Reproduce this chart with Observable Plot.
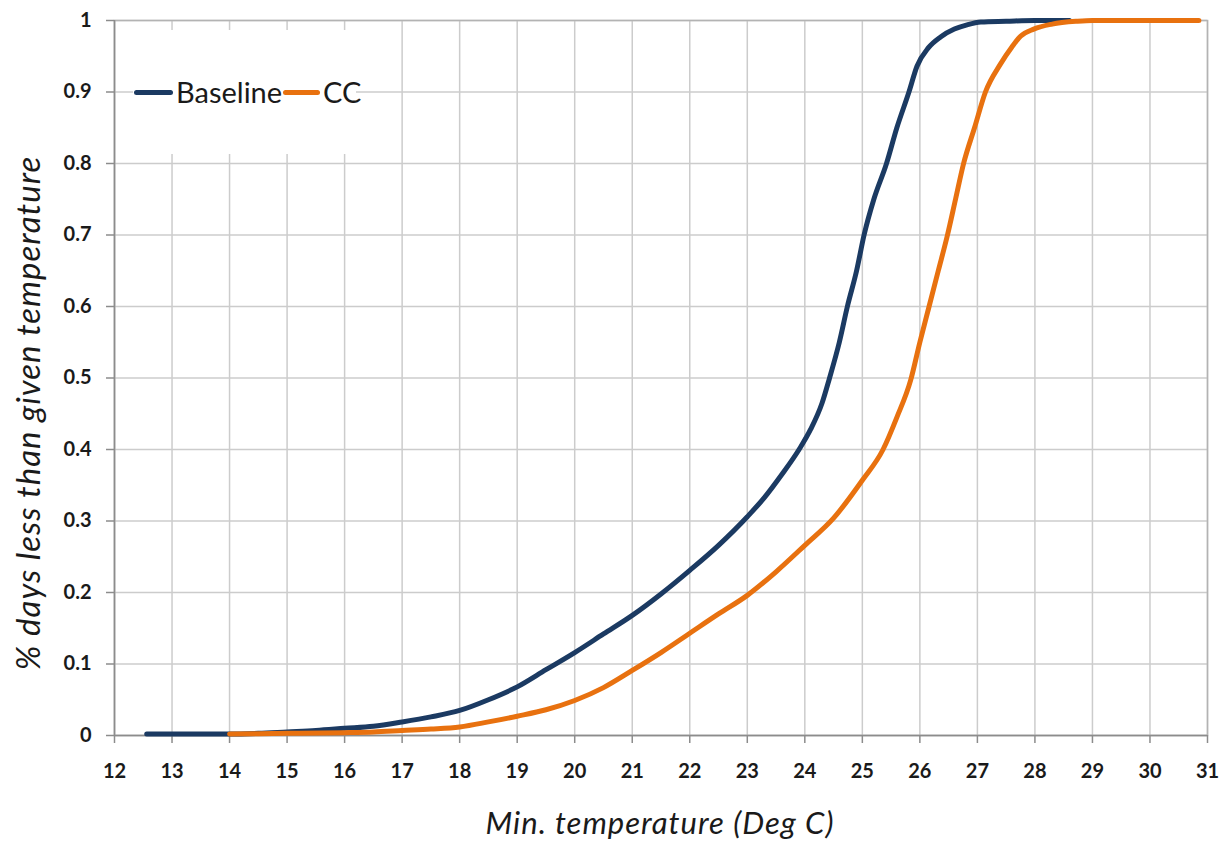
<!DOCTYPE html>
<html>
<head>
<meta charset="utf-8">
<script src="https://cdn.jsdelivr.net/npm/d3@7"></script>
<script src="https://cdn.jsdelivr.net/npm/@observablehq/plot@0.6"></script>
<style>
  html, body { margin: 0; padding: 0; background: #fff; }
  #wrap { position: relative; width: 1228px; height: 841px; font-family: Lato, "Open Sans", sans-serif; color: #1a1a1a; }
  #chart { position: absolute; left: 0; top: 0; }
  .legend { position: absolute; left: 133px; top: 30px; width: 223px; height: 124px; background: #fff; }
  .sw { position: absolute; height: 5px; border-radius: 3px; }
  .lt { position: absolute; font-size: 29px; line-height: 1; }
  .xtitle { position: absolute; left: 0; width: 1320px; top: 803px; text-align: center; font-size: 31px; letter-spacing: 1px; font-style: italic; }
  .ytitle { position: absolute; left: 27px; top: 413px; transform: translate(-50%, -50%) rotate(-90deg); white-space: nowrap; font-size: 33px; letter-spacing: 1px; font-style: italic; }
</style>
</head>
<body>
<div id="wrap">
  <div id="chart"></div>
  <div class="legend" id="legend"></div>
  <div class="xtitle">Min. temperature (Deg C)</div>
  <div class="ytitle">% days less than given temperature</div>
</div>
<script>
// ---- data ----
const seriesNames = ["Baseline", "CC"];
const seriesColors = ["#1b3a62", "#e8710f"];

const baselineTemp  = [12.56, 13, 14, 14.5, 15, 15.5, 16, 16.5, 17, 17.5, 18, 18.5, 19, 19.5, 20, 20.5, 21, 21.5, 22, 22.5, 23, 23.3, 23.6, 23.9, 24.1, 24.3, 24.43, 24.6, 24.74, 24.9, 25.03, 25.2, 25.42, 25.6, 25.81, 25.95, 26.15, 26.36, 26.6, 26.82, 27.06, 27.5, 28, 28.6];
const baselineShare = [0.002, 0.002, 0.002, 0.003, 0.005, 0.007, 0.010, 0.013, 0.019, 0.026, 0.035, 0.050, 0.068, 0.092, 0.116, 0.142, 0.168, 0.198, 0.231, 0.266, 0.306, 0.333, 0.365, 0.400, 0.428, 0.465, 0.50, 0.55, 0.60, 0.65, 0.70, 0.75, 0.80, 0.85, 0.90, 0.936, 0.962, 0.977, 0.988, 0.994, 0.998, 0.999, 1.0, 1.0];

const ccTemp  = [14, 15, 16, 16.5, 17, 17.5, 18, 18.5, 19, 19.5, 20, 20.5, 21, 21.5, 22, 22.5, 23, 23.5, 24, 24.5, 25, 25.36, 25.6, 25.84, 26.0, 26.16, 26.32, 26.48, 26.62, 26.76, 26.95, 27.14, 27.4, 27.6, 27.75, 27.98, 28.3, 28.74, 29, 30.85];
const ccShare = [0.002, 0.003, 0.004, 0.005, 0.007, 0.009, 0.012, 0.019, 0.027, 0.036, 0.049, 0.067, 0.091, 0.116, 0.143, 0.170, 0.196, 0.229, 0.266, 0.304, 0.357, 0.40, 0.445, 0.497, 0.55, 0.60, 0.65, 0.70, 0.75, 0.80, 0.85, 0.90, 0.939, 0.963, 0.978, 0.988, 0.995, 0.999, 1.0, 1.0];

const xTicks = [12, 13, 14, 15, 16, 17, 18, 19, 20, 21, 22, 23, 24, 25, 26, 27, 28, 29, 30, 31];
const yTicks = [0, 0.1, 0.2, 0.3, 0.4, 0.5, 0.6, 0.7, 0.8, 0.9, 1];
const yTickLabels = ["0", "0.1", "0.2", "0.3", "0.4", "0.5", "0.6", "0.7", "0.8", "0.9", "1"];

// ---- build tables ----
const baseline = baselineTemp.map((t, i) => ({t, v: baselineShare[i]}));
const cc = ccTemp.map((t, i) => ({t, v: ccShare[i]}));

const gridStyle = {stroke: "#cccccc", strokeOpacity: 1, strokeWidth: 1.5};

const chart = Plot.plot({
  width: 1228,
  height: 841,
  marginLeft: 114,
  marginRight: 21,
  marginTop: 20,
  marginBottom: 106,
  style: {fontFamily: "Lato, 'Open Sans', sans-serif", background: "white", color: "#1a1a1a"},
  x: {domain: [12, 31]},
  y: {domain: [0, 1]},
  marks: [
    Plot.gridX(xTicks, gridStyle),
    Plot.gridY(yTicks, gridStyle),
    Plot.frame({stroke: "#b3b3b3", strokeWidth: 1.5}),
    Plot.ruleX([12], {stroke: "#8c8c8c", strokeWidth: 1.5}),
    Plot.ruleY([0], {stroke: "#8c8c8c", strokeWidth: 1.5}),
    Plot.axisX(xTicks, {tickSize: 8, tickPadding: 20, fontSize: 20, fontWeight: "bold", stroke: "#8c8c8c", strokeWidth: 1.5, fill: "#1a1a1a", label: null}),
    Plot.axisY(yTicks, {tickSize: 8, tickPadding: 15, fontSize: 20, fontWeight: "bold", stroke: "#8c8c8c", strokeWidth: 1.5, fill: "#1a1a1a", label: null,
      tickFormat: d => yTickLabels[yTicks.indexOf(d)]}),
    Plot.line(baseline, {x: "t", y: "v", curve: "monotone-x", stroke: seriesColors[0], strokeWidth: 5, strokeLinecap: "round", strokeLinejoin: "round"}),
    Plot.line(cc, {x: "t", y: "v", curve: "monotone-x", stroke: seriesColors[1], strokeWidth: 5, strokeLinecap: "round", strokeLinejoin: "round"})
  ]
});
document.getElementById("chart").appendChild(chart);

// ---- legend ----
const legend = document.getElementById("legend");
const items = [
  {sw: 1, swW: 39, tx: 43},
  {sw: 150, swW: 37, tx: 190}
];
seriesNames.forEach((name, i) => {
  const sw = document.createElement("div");
  sw.className = "sw";
  sw.style.left = items[i].sw + "px";
  sw.style.width = items[i].swW + "px";
  sw.style.top = "60px";
  sw.style.background = seriesColors[i];
  legend.appendChild(sw);
  const tx = document.createElement("div");
  tx.className = "lt";
  tx.style.left = items[i].tx + "px";
  tx.style.top = "47px";
  tx.textContent = name;
  legend.appendChild(tx);
});
</script>
</body>
</html>
